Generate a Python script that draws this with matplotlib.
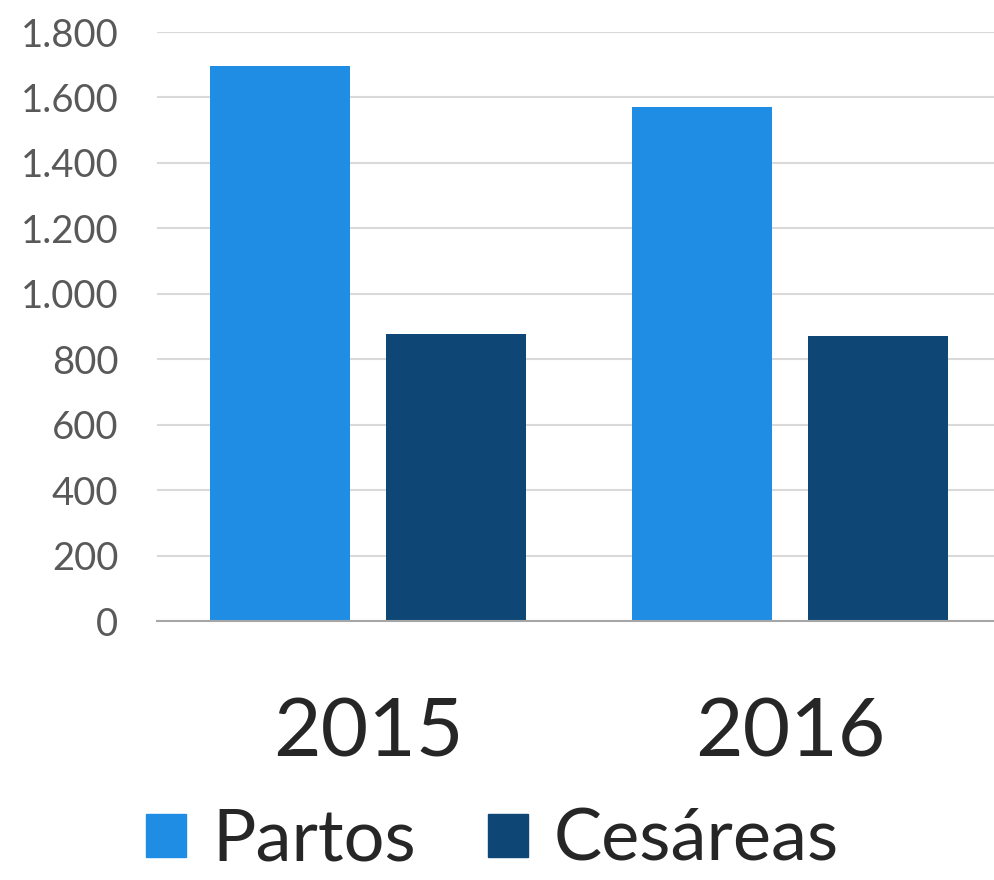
import numpy as np
import matplotlib
matplotlib.use("Agg")
import matplotlib.pyplot as plt
from matplotlib.patches import Patch
from matplotlib.ticker import FuncFormatter

plt.rcParams['font.family'] = ['Lato', 'DejaVu Sans']

# data
years = ["2015", "2016"]
series = ["Partos", "Cesáreas"]
partos = [1697, 1570]
cesareas = [877, 871]
colors = ["#208de5", "#0e4776"]

fig = plt.figure(figsize=(9.95, 8.8), dpi=100)
ax = fig.add_axes([0.158, 0.2943, 0.848, 0.6693])

x = np.arange(len(years))
w = 0.332
off = (w + 0.085) / 2
ax.bar(x - off, partos, w, color=colors[0], zorder=3)
ax.bar(x + off, cesareas, w, color=colors[1], zorder=3)

ax.set_xlim(-0.5, 1.5)
ax.set_ylim(0, 1800)
ax.set_yticks(np.arange(0, 1801, 200))
ax.yaxis.set_major_formatter(FuncFormatter(lambda v, p: f"{int(v):,}".replace(",", ".")))
ax.grid(axis='y', color='#d9d9d9', linewidth=1.5, zorder=0)
ax.set_xticks(x)
ax.set_xticklabels(years)

for s in ['top', 'right', 'left']:
    ax.spines[s].set_visible(False)
ax.spines['bottom'].set_color('#a6a6a6')
ax.spines['bottom'].set_linewidth(1.5)
ax.spines['bottom'].set_zorder(4)

ax.tick_params(axis='y', length=0, pad=28, labelsize=27.5, labelcolor='#595959')
ax.tick_params(axis='x', length=0, pad=54, labelsize=59, labelcolor='#262626')

handles = [Patch(color=c) for c in colors]
leg = fig.legend(handles, series, loc='center', bbox_to_anchor=(0.495, 0.045),
                 ncol=2, frameon=False, fontsize=52, handlelength=0.55,
                 handleheight=0.55, handletextpad=0.36, columnspacing=1.0,
                 labelcolor='#262626', borderpad=0)

fig.savefig("out.png", dpi=100)
